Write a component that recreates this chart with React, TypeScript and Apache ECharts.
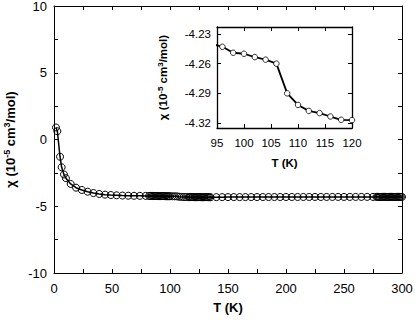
import React, { useEffect, useRef } from "react";
import * as echarts from "echarts";

const mainT = [
  1.7, 2.9, 5.2, 6.6, 8.6, 10.3, 14.4, 19, 24, 29, 34, 39, 44, 49, 54, 59, 64, 69, 74, 79,
  82, 83, 84, 85, 86, 87, 88, 89, 90, 91, 92, 93, 94, 95, 96, 97, 98, 99, 100,
  102, 104, 106, 108, 110, 112, 114, 116,
  117, 118, 119, 120, 121, 122, 123, 124, 125, 126, 127, 128, 129, 130, 131, 132, 133, 134,
  135, 140, 145, 150, 155, 160, 165, 170, 175, 180, 185, 190, 195, 200, 205, 210, 215, 220,
  225, 230, 235, 240, 245, 250, 255, 260, 265, 270, 275,
  278, 279, 280, 281, 282, 283, 284, 285, 286, 287, 288, 289, 290, 291, 292, 293, 294, 295,
  296, 297, 298, 299, 300,
];
const mainChi = [
  0.9, 0.62, -1.29, -2.08, -2.62, -2.9, -3.33, -3.61, -3.78, -3.91, -4.01, -4.08, -4.13, -4.16,
  -4.18, -4.2, -4.21, -4.215, -4.22, -4.225,
  -4.228, -4.229, -4.23, -4.231, -4.232, -4.233, -4.234, -4.235, -4.236, -4.237, -4.238, -4.239,
  -4.24, -4.241, -4.243, -4.246, -4.249, -4.25, -4.25,
  -4.253, -4.256, -4.26, -4.29, -4.302, -4.308, -4.31, -4.313,
  -4.315, -4.317, -4.317, -4.317, -4.318, -4.318, -4.318, -4.319, -4.319, -4.319, -4.32, -4.32,
  -4.32, -4.32, -4.32, -4.32, -4.32, -4.32,
  -4.32, -4.318, -4.317, -4.315, -4.314, -4.313, -4.312, -4.311, -4.31, -4.31, -4.309, -4.308,
  -4.308, -4.307, -4.306, -4.306, -4.305, -4.305, -4.304, -4.304, -4.303, -4.303, -4.302, -4.302,
  -4.301, -4.301, -4.3, -4.3, -4.3,
  -4.3, -4.3, -4.3, -4.3, -4.3, -4.3, -4.3, -4.3, -4.3, -4.3, -4.3, -4.3, -4.3, -4.3, -4.3, -4.3,
  -4.3, -4.3, -4.3, -4.3, -4.3, -4.3, -4.3,
];

const insetT = [94, 96, 98, 100, 102, 104, 106, 108, 110, 112, 114, 116, 118, 120];
const insetChi = [
  -4.24, -4.243, -4.249, -4.25, -4.2534, -4.256, -4.26, -4.29, -4.3017, -4.3077, -4.31, -4.3134,
  -4.3167, -4.317,
];
const insetYTicks = [-4.32, -4.29, -4.26, -4.23];

const FONT = "'Liberation Sans', Arial, Helvetica, sans-serif";

export default function App() {
  const ref = useRef<HTMLDivElement>(null);
  useEffect(() => {
    if (!ref.current) return;
    const chart = echarts.init(ref.current, null, { renderer: "svg" });
    const axisLine = { show: true, onZero: false, lineStyle: { color: "#000", width: 1 } };
    const insetLine = { show: true, onZero: false, lineStyle: { color: "#000", width: 1.3 } };
    const tick = { inside: true, length: 4, lineStyle: { color: "#000" } };
    const minor = { show: true, splitNumber: 2, length: 4, lineStyle: { color: "#000" } };
    const supRich = {
      t: { fontSize: 13, fontWeight: "bold", fontFamily: FONT, color: "#000" },
      sup: { fontSize: 9, fontWeight: "bold", fontFamily: FONT, color: "#000", padding: [0, 0, 7, 0] },
    };
    const supRichSmall = {
      t: { fontSize: 11.5, fontWeight: "bold", fontFamily: FONT, color: "#000" },
      sup: { fontSize: 8, fontWeight: "bold", fontFamily: FONT, color: "#000", padding: [0, 0, 6, 0] },
    };
    chart.setOption({
      animation: false,
      backgroundColor: "#fff",
      grid: [
        { left: 54, right: 13, top: 6, bottom: 50, containLabel: false, outerBoundsMode: "none" },
        { left: 217, width: 135, top: 27, height: 101, containLabel: false, outerBoundsMode: "none" },
      ],
      xAxis: [
        {
          type: "value", gridIndex: 0, min: 0, max: 300, interval: 50,
          name: "T (K)", nameLocation: "middle", nameGap: 28,
          nameTextStyle: { fontSize: 13, fontWeight: "bold", fontFamily: FONT, color: "#000" },
          axisLine, splitLine: { show: false }, axisTick: tick, minorTick: minor,
          axisLabel: { fontSize: 13, fontFamily: FONT, color: "#000", margin: 9 },
        },
        {
          type: "value", gridIndex: 0, position: "top", min: 0, max: 300, interval: 50,
          axisLine, splitLine: { show: false }, axisTick: tick, minorTick: minor,
          axisLabel: { show: false },
        },
        {
          type: "value", gridIndex: 1, min: 95, max: 120, interval: 5,
          name: "T (K)", nameLocation: "middle", nameGap: 29,
          nameTextStyle: { fontSize: 11.5, fontWeight: "bold", fontFamily: FONT, color: "#000" },
          axisLine: insetLine, splitLine: { show: false }, axisTick: tick,
          axisLabel: { fontSize: 11.5, fontFamily: FONT, color: "#000", margin: 9 },
        },
        {
          type: "value", gridIndex: 1, position: "top", min: 95, max: 120, interval: 5,
          axisLine: insetLine, splitLine: { show: false }, axisTick: tick,
          axisLabel: { show: false },
        },
      ],
      yAxis: [
        {
          type: "value", gridIndex: 0, min: -10, max: 10, interval: 5,
          name: "{t|χ (10}{sup|-5}{t| cm}{sup|3}{t|/mol)}", nameLocation: "middle", nameGap: 30,
          nameTextStyle: { rich: supRich },
          axisLine, splitLine: { show: false }, axisTick: tick, minorTick: minor,
          axisLabel: { fontSize: 13, fontFamily: FONT, color: "#000", margin: 7 },
        },
        {
          type: "value", gridIndex: 0, position: "right", min: -10, max: 10, interval: 5,
          axisLine, splitLine: { show: false }, axisTick: tick, minorTick: minor,
          axisLabel: { show: false },
        },
        {
          type: "value", gridIndex: 1, min: -4.325, max: -4.223,
          name: "{t|χ (10}{sup|-5}{t| cm}{sup|3}{t|/mol)}", nameLocation: "middle", nameGap: 47,
          nameTextStyle: { rich: supRichSmall },
          axisLine: insetLine, splitLine: { show: false },
          axisTick: { ...tick, customValues: insetYTicks },
          axisLabel: {
            fontSize: 11.5, fontFamily: FONT, color: "#000", margin: 6,
            customValues: insetYTicks,
            formatter: (v: number) => v.toFixed(2),
          },
        },
        {
          type: "value", gridIndex: 1, position: "right", min: -4.325, max: -4.223,
          axisLine: insetLine, splitLine: { show: false },
          axisTick: { ...tick, customValues: insetYTicks },
          axisLabel: { show: false },
        },
      ],
      series: [
        {
          type: "line", xAxisIndex: 0, yAxisIndex: 0,
          data: mainT.map((t, i) => [t, mainChi[i]]),
          symbol: "circle", symbolSize: 7,
          itemStyle: { color: "rgba(0,0,0,0)", borderColor: "#000", borderWidth: 1 },
          lineStyle: { color: "#000", width: 1.5 },
        },
        {
          type: "line", xAxisIndex: 2, yAxisIndex: 2,
          data: insetT.map((t, i) => [t, insetChi[i]]),
          symbol: "circle", symbolSize: 5.5, clip: true,
          itemStyle: { color: "#fff", borderColor: "#000", borderWidth: 0.8 },
          lineStyle: { color: "#000", width: 1.8 },
          z: 5,
        },
      ],
    });
    return () => chart.dispose();
  }, []);
  return <div ref={ref} style={{ width: 415, height: 323, position: "absolute", left: 0, top: 0 }} />;
}
